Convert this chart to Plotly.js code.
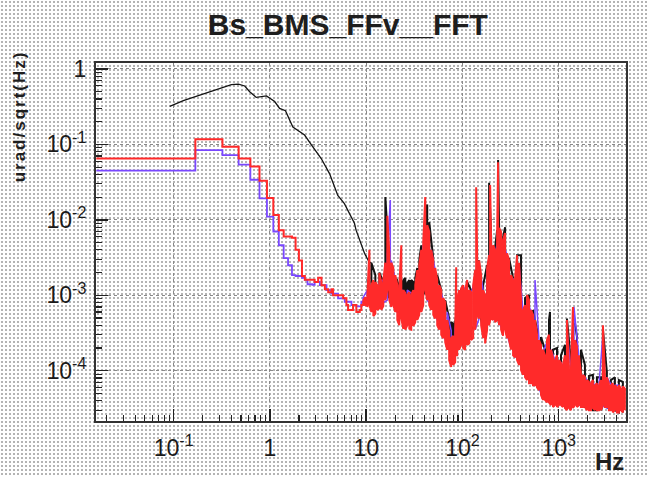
<!DOCTYPE html>
<html>
<head>
<meta charset="utf-8">
<script src="https://cdn.plot.ly/plotly-3.0.1.min.js"></script>
<style>
  html, body { margin: 0; padding: 0; background: #fff; }
  #chart {
    width: 649px; height: 477px;
    background-color: #ffffff;
    background-image: radial-gradient(circle, #b4b4b4 0.9px, rgba(255,255,255,0) 1.2px);
    background-size: 4px 4px;
  }
  .annotation[data-index="0"] text { letter-spacing: 2px; }
</style>
</head>
<body>
<div id="chart"></div>
<script>
// ---------- tick labels ----------
const xTickVals = [0.1, 1, 10, 100, 1000];
const xTickText = ['10<sup>-1</sup>', '1', '10', '10<sup>2</sup>', '10<sup>3</sup>'];
const yTickVals = [1e-4, 1e-3, 1e-2, 1e-1, 1];
const yTickText = ['10<sup>-4</sup>', '10<sup>-3</sup>', '10<sup>-2</sup>', '10<sup>-1</sup>', '1'];

// ---------- black series: smooth low-frequency part ----------
const blackLowHz = [0.091, 0.126, 0.187, 0.278, 0.398, 0.47, 0.547, 0.616, 0.72, 0.92, 1.12, 1.26, 1.45, 1.73, 2.29, 2.79, 3.41, 4.16, 5.07, 5.94, 6.7, 7.55, 7.85, 8.85, 9.6, 10.8, 11.32];
const blackLowVal = [0.32, 0.38, 0.45, 0.53, 0.62, 0.63, 0.595, 0.5, 0.42, 0.44, 0.37, 0.30, 0.28, 0.17, 0.133, 0.093, 0.065, 0.041, 0.021, 0.0164, 0.0122, 0.009, 0.0073, 0.0049, 0.0036, 0.0027, 0.0027];

// ---------- black series: noisy high-frequency part (bin, upper, lower) ----------
const blackHz = [11.32, 12.45, 13.70, 15.07, 15.81, 16.58, 17.39,
  19.13, 20.07, 21.05, 22.08, 23.16, 24.29, 25.48, 26.72, 28.03, 29.40, 30.84, 32.35, 33.93, 35.59,
  37.33, 41.07, 43.07, 45.18, 49.71, 54.69,
  60.17, 66.20, 72.83, 76.39, 80.13, 84.04, 88.16, 92.47, 101.7, 111.9, 123.1, 135.5, 149.0, 164.0, 180.4, 189.2, 198.5, 218.4, 229.1, 234.6, 240.3, 264.3,
  277.3, 305.0, 335.6, 369.2, 406.2, 446.9, 491.7, 541.0, 595.2, 654.9, 720.5, 792.7, 812, 872.2, 959.6, 1056, 1161, 1218, 1340, 1406,
  1547, 1702, 1872, 2060, 2266, 2494, 2744, 2878, 3166, 3484, 3833, 4217, 4640];
const blackHi = [2.7e-3, 1.85e-3, 2.0e-3, 1.5e-3, 2.0e-2, 7.3e-3, 2.7e-3,
  2.0e-3, 1.7e-3, 1.59e-3, 1.45e-3, 1.5e-3, 1.59e-3, 1.69e-3, 1.45e-3, 1.59e-3, 1.59e-3, 1.5e-3, 1.7e-3, 2.3e-3, 2.9e-3,
  4.6e-3, 1.16e-2, 1.6e-2, 9.3e-3, 3.1e-3, 1.85e-3,
  1.17e-3, 8.6e-4, 4.9e-4, 4.4e-4, 4.2e-4, 4.4e-4, 6.5e-4, 1.01e-3, 1.36e-3, 1.5e-3, 1.17e-3, 1.85e-3, 2.9e-3, 1.36e-3, 2.5e-3, 3.1e-2, 5.9e-3, 4.3e-3, 7.3e-3, 6.2e-2, 8.5e-3, 5.9e-3,
  8.0e-3, 3.1e-3, 1.69e-3, 3.4e-3, 3.4e-3, 9.2e-4, 1.01e-3, 6.4e-4, 3.5e-4, 2.8e-4, 1.9e-4, 4.7e-4, 6.0e-4, 1.9e-4, 2.0e-4, 1.6e-4, 2.2e-4, 4.9e-4, 1.3e-4, 6.4e-4,
  2.8e-4, 1.9e-4, 1.19e-4, 8.5e-5, 8.8e-5, 8.2e-5, 8.2e-5, 3.5e-4, 9.6e-5, 7.5e-5, 8.2e-5, 7.5e-5, 7.1e-5];
const blackLo = [1.17e-3, 9.2e-4, 8.1e-4, 8.6e-4, 1.01e-3, 1.01e-3, 9.2e-4,
  8.6e-4, 7.0e-4, 6.7e-4, 6.4e-4, 6.4e-4, 6.0e-4, 6.0e-4, 6.0e-4, 6.0e-4, 6.0e-4, 6.4e-4, 6.4e-4, 7.4e-4, 8.0e-4,
  8.6e-4, 1.17e-3, 1.17e-3, 1.01e-3, 7.4e-4, 5.5e-4,
  4.0e-4, 3.0e-4, 2.2e-4, 1.9e-4, 1.8e-4, 1.9e-4, 2.1e-4, 2.55e-4, 3.0e-4, 3.0e-4, 3.5e-4, 4.0e-4, 6.4e-4, 3.5e-4, 4.0e-4, 4.9e-4, 5.5e-4, 5.5e-4, 5.5e-4, 6.4e-4, 4.7e-4, 3.5e-4,
  4.0e-4, 3.0e-4, 1.9e-4, 1.6e-4, 1.19e-4, 9.6e-5, 8.2e-5, 7.5e-5, 7.1e-5, 5.5e-5, 4.75e-5, 4.3e-5, 4.3e-5, 3.8e-5, 3.8e-5, 3.8e-5, 3.5e-5, 3.2e-5, 3.2e-5, 3.4e-5,
  3.5e-5, 3.5e-5, 3.3e-5, 3.2e-5, 3.0e-5, 3.0e-5, 3.0e-5, 3.5e-5, 3.3e-5, 3.0e-5, 3.0e-5, 2.8e-5, 2.8e-5];

// ---------- blue series: histogram steps at low frequency ----------
const blueStepHz = [0.0157, 0.168, 0.321, 0.473, 0.626, 0.779, 0.931, 1.084, 1.237, 1.389, 1.542, 1.694, 1.847, 2.152, 2.305, 2.457, 2.762, 2.915, 3.3, 3.87, 4.36, 5.1, 5.98, 7.03, 7.9, 8.9, 9.35];
const blueStepVal = [0.045, 0.084, 0.072, 0.054, 0.034, 0.0193, 0.011, 0.007, 0.0046, 0.0031, 0.0025, 0.00185, 0.0018, 0.0017, 0.0016, 0.0014, 0.00137, 0.0015, 0.00136, 0.00117, 0.00105, 0.00091, 0.00082, 0.00074, 0.00071, 0.00082, 0.00095];

// ---------- blue series: noisy part ----------
const blueHz = [9.35, 10.29, 11.32, 12.45, 13.70, 15.07, 16.58, 17.8, 18.24, 20.07, 22.08, 24.29, 26.72, 29.40, 32.35, 35.59, 39.15, 43.07, 47.39, 52.14,
  57.36, 63.11, 69.43, 76.39, 84.04, 92.47, 101.7, 111.9, 123.1, 135.5, 149.0, 164.0, 180.4, 198.5, 218.4, 240.3, 264.3, 290.8, 320.0, 352.0,
  387.3, 426.1, 468.8, 515.8, 567.5, 624.3, 686.9, 755.8, 831.5, 914.8, 1006, 1107, 1218, 1340, 1440, 1622, 1785, 1964, 2161, 2377,
  2616, 2878, 3166, 3484, 3833, 4217, 4640];
const blueHi = [9.5e-4, 1.17e-3, 1.24e-3, 1.36e-3, 1.5e-3, 1.59e-3, 3.4e-3, 1.83e-2, 2.9e-3, 1.59e-3, 1.36e-3, 1.07e-3, 1.17e-3, 1.07e-3, 1.17e-3, 1.85e-3, 4.6e-3, 7.3e-3, 4.0e-3, 2.16e-3,
  1.36e-3, 8.6e-4, 6.0e-4, 3.4e-4, 3.6e-4, 1.17e-3, 1.17e-3, 1.36e-3, 1.07e-3, 1.59e-3, 2.5e-3, 1.17e-3, 2.16e-3, 4.6e-3, 3.4e-3, 6.9e-3, 4.9e-3, 3.4e-3, 1.69e-3, 1.59e-3,
  2.5e-3, 6.0e-4, 8.6e-4, 6.0e-4, 1.59e-3, 2.55e-4, 1.78e-4, 2.4e-4, 1.9e-4, 1.38e-4, 1.38e-4, 1.19e-4, 3.5e-4, 1.02e-4, 7.0e-4, 1.5e-4, 8.8e-5, 7.5e-5, 6.8e-5, 6.6e-5,
  6.4e-5, 3.0e-4, 8.2e-5, 6.6e-5, 6.4e-5, 6.4e-5, 6.2e-5];
const blueLo = [7.9e-4, 8.6e-4, 7.4e-4, 7.4e-4, 7.4e-4, 7.9e-4, 8.6e-4, 1.01e-3, 8.6e-4, 6.4e-4, 5.5e-4, 4.7e-4, 4.7e-4, 4.4e-4, 4.9e-4, 6.0e-4, 7.4e-4, 8.6e-4, 7.4e-4, 5.5e-4,
  4.0e-4, 3.0e-4, 2.2e-4, 1.38e-4, 1.46e-4, 2.2e-4, 2.2e-4, 2.55e-4, 2.7e-4, 3.5e-4, 4.9e-4, 3.0e-4, 3.6e-4, 4.9e-4, 4.7e-4, 4.4e-4, 3.2e-4, 3.0e-4, 2.0e-4, 1.6e-4,
  1.3e-4, 9.6e-5, 8.0e-5, 7.5e-5, 7.1e-5, 5.8e-5, 4.3e-5, 4.1e-5, 3.7e-5, 3.6e-5, 3.6e-5, 3.5e-5, 3.2e-5, 3.2e-5, 3.4e-5, 3.5e-5, 3.4e-5, 3.2e-5, 3.1e-5, 3.1e-5,
  3.1e-5, 3.4e-5, 3.2e-5, 3.1e-5, 3.1e-5, 3.0e-5, 3.0e-5];

// ---------- red series: histogram steps at low frequency ----------
const redStepHz = [0.0157, 0.168, 0.321, 0.473, 0.626, 0.779, 0.931, 1.084, 1.237, 1.389, 1.542, 1.694, 1.847, 1.999, 2.152, 2.305, 2.61, 2.915, 3.17, 3.43, 3.72, 4.03, 4.36, 4.53, 5.31, 5.76, 6.23, 6.48, 7.3, 7.9, 8.57, 8.9, 9.35];
const redStepVal = [0.065, 0.117, 0.093, 0.065, 0.051, 0.033, 0.0195, 0.0116, 0.0073, 0.006, 0.006, 0.0058, 0.004, 0.0029, 0.0018, 0.0016, 0.0016, 0.0015, 0.0017, 0.00136, 0.0012, 0.0011, 0.0012, 0.001, 0.001, 0.00091, 0.00074, 0.00064, 0.00074, 0.0006, 0.00064, 0.00074, 0.00082];

// ---------- red series: noisy part ----------
const redHz = [9.35, 9.81, 10.29, 10.79, 11.32, 11.87, 12.45, 13.06, 13.70, 14.37, 15.07, 15.81, 16.58, 17.39, 18.24, 19.13, 20.07, 21.05, 22.08, 23.16,
  24.29, 25.48, 26.72, 28.03, 29.40, 30.84, 32.35, 33.93, 35.59, 37.33, 39.15, 41.07, 43.07, 45.18, 47.39, 49.71, 52.14, 54.69, 57.36, 60.17,
  63.11, 66.20, 69.43, 72.83, 76.39, 80.13, 84.04, 86.1, 88.16, 92.47, 96.99, 101.7, 106.7, 111.9, 117.4, 123.1, 129.2, 135.5, 138.8, 142.1,
  149.0, 156.3, 164.0, 172.0, 180.4, 189.2, 193.8, 198.5, 208.2, 218.4, 229.1, 234.6, 240.3, 252.0, 264.3, 277.3, 290.8, 305.0, 320.0, 335.6,
  352.0, 369.2, 387.3, 406.2, 426.1, 446.9, 468.8, 491.7, 515.8, 541.0, 567.5, 595.2, 624.3, 654.9, 686.9, 720.5, 755.8, 792.7, 831.5, 872.2,
  914.8, 959.6, 1006, 1056, 1107, 1161, 1218, 1278, 1340, 1406, 1475, 1547, 1622, 1702, 1785, 1872, 1964, 2060, 2161, 2266,
  2377, 2494, 2616, 2744, 2878, 3019, 3166, 3321, 3484, 3654, 3833, 4020, 4217, 4423, 4640, 4867];
const redHi = [8.6e-4, 9.5e-4, 1.01e-3, 4.0e-3, 1.36e-3, 1.59e-3, 1.5e-3, 1.36e-3, 1.97e-3, 1.45e-3, 1.59e-3, 2.7e-3, 1.13e-2, 3.6e-3, 2.7e-3, 2.3e-3, 1.85e-3, 1.36e-3, 1.24e-3, 4.6e-3,
  1.17e-3, 1.07e-3, 1.01e-3, 1.1e-3, 1.01e-3, 1.17e-3, 1.36e-3, 2.16e-3, 2.5e-3, 4.0e-3, 5.1e-3, 2.0e-2, 8.5e-3, 6.9e-3, 4.0e-3, 2.9e-3, 2.3e-3, 1.59e-3, 1.36e-3, 1.17e-3,
  9.2e-4, 8.1e-4, 4.7e-4, 3.3e-4, 2.7e-4, 2.9e-4, 3.2e-4, 2.35e-3, 8.6e-4, 1.17e-3, 1.24e-3, 1.36e-3, 1.17e-3, 1.59e-3, 1.17e-3, 1.1e-3, 1.36e-3, 2.16e-3, 2.7e-2, 3.4e-3,
  2.9e-3, 1.85e-3, 1.17e-3, 1.01e-3, 2.3e-3, 3.4e-3, 2.9e-2, 5.4e-3, 4.6e-3, 4.0e-3, 6.3e-3, 5.8e-2, 7.8e-3, 6.9e-3, 5.4e-3, 6.7e-3, 3.6e-3, 2.9e-3, 1.85e-3, 1.59e-3,
  1.69e-3, 3.4e-3, 2.7e-3, 8.6e-4, 6.4e-4, 7.4e-4, 1.01e-3, 8.6e-4, 6.4e-4, 5.5e-4, 4.7e-4, 3.0e-4, 2.55e-4, 2.2e-4, 1.9e-4, 1.6e-4, 2.55e-4, 3.0e-4, 1.9e-4, 1.5e-4,
  1.38e-4, 1.6e-4, 1.38e-4, 1.26e-4, 1.19e-4, 1.6e-4, 4.7e-4, 1.12e-4, 1.02e-4, 7.0e-4, 2.55e-4, 2.1e-4, 1.6e-4, 9.3e-5, 8.8e-5, 8.2e-5, 7.5e-5, 7.1e-5, 6.8e-5, 7.5e-5,
  6.4e-5, 6.8e-5, 6.4e-5, 7.5e-5, 4.0e-4, 8.8e-5, 8.2e-5, 6.8e-5, 6.4e-5, 6.8e-5, 6.4e-5, 6.0e-5, 6.4e-5, 5.8e-5, 6.2e-5, 5.8e-5];
const redLo = [7.2e-4, 7.4e-4, 7.2e-4, 7.4e-4, 6.0e-4, 5.3e-4, 5.7e-4, 6.4e-4, 6.7e-4, 6.4e-4, 7.2e-4, 8.6e-4, 1.17e-3, 8.6e-4, 7.0e-4, 7.4e-4, 6.0e-4, 4.7e-4, 4.0e-4, 4.9e-4,
  3.6e-4, 3.5e-4, 4.0e-4, 3.6e-4, 3.5e-4, 3.9e-4, 4.4e-4, 4.7e-4, 5.5e-4, 6.0e-4, 7.4e-4, 1.17e-3, 8.6e-4, 7.4e-4, 6.4e-4, 5.5e-4, 4.9e-4, 4.0e-4, 3.5e-4, 3.0e-4,
  2.7e-4, 2.4e-4, 1.9e-4, 1.38e-4, 1.12e-4, 1.19e-4, 1.3e-4, 1.6e-4, 1.6e-4, 1.9e-4, 2.2e-4, 2.0e-4, 1.9e-4, 2.2e-4, 2.3e-4, 2.55e-4, 2.7e-4, 3.5e-4, 4.7e-4, 5.5e-4,
  4.9e-4, 4.0e-4, 2.7e-4, 2.3e-4, 3.5e-4, 4.0e-4, 4.7e-4, 4.9e-4, 4.7e-4, 4.4e-4, 4.7e-4, 5.5e-4, 4.0e-4, 3.5e-4, 2.9e-4, 3.5e-4, 2.7e-4, 2.55e-4, 1.9e-4, 1.6e-4,
  1.5e-4, 1.38e-4, 1.19e-4, 1.02e-4, 8.8e-5, 8.2e-5, 7.5e-5, 6.8e-5, 6.8e-5, 6.4e-5, 6.4e-5, 6.0e-5, 5.5e-5, 4.75e-5, 4.1e-5, 4.1e-5, 3.8e-5, 3.8e-5, 3.5e-5, 3.3e-5,
  3.5e-5, 3.3e-5, 3.5e-5, 3.5e-5, 3.3e-5, 3.2e-5, 3.0e-5, 3.2e-5, 3.0e-5, 3.2e-5, 3.5e-5, 3.3e-5, 3.5e-5, 3.3e-5, 3.3e-5, 3.3e-5, 3.0e-5, 3.0e-5, 3.0e-5, 3.2e-5,
  3.0e-5, 3.0e-5, 3.0e-5, 3.0e-5, 3.5e-5, 3.3e-5, 3.3e-5, 3.0e-5, 3.0e-5, 2.8e-5, 3.0e-5, 2.8e-5, 2.8e-5, 3.0e-5, 2.8e-5, 3.0e-5];

// ---------- colours ----------
const BLACK = '#141414', BLUE = '#7a48ff', RED = '#ff2a2a';

// Each noisy bin is drawn as a vertical stroke from its lower to its upper value.
function band(xs, hi, lo) {
  const n = Math.min(xs.length, hi.length, lo.length);
  const x = [], y = [];
  for (let i = 0; i < n; i++) {
    x.push(xs[i], xs[i]);
    if (i % 2 === 0) y.push(lo[i], hi[i]); else y.push(hi[i], lo[i]);
  }
  return { x, y };
}

const bBand = band(blackHz, blackHi, blackLo);
const uBand = band(blueHz, blueHi, blueLo);
const rBand = band(redHz, redHi, redLo);

const traces = [
  { x: blackLowHz, y: blackLowVal, mode: 'lines', line: { color: BLACK, width: 1.3 }, hoverinfo: 'skip' },
  { x: bBand.x, y: bBand.y, mode: 'lines', line: { color: BLACK, width: 2 }, hoverinfo: 'skip' },
  { x: blueStepHz, y: blueStepVal, mode: 'lines', line: { color: BLUE, width: 1.8, shape: 'hv' }, hoverinfo: 'skip' },
  { x: uBand.x, y: uBand.y, mode: 'lines', line: { color: BLUE, width: 1.5 }, hoverinfo: 'skip' },
  { x: redStepHz, y: redStepVal, mode: 'lines', line: { color: RED, width: 2, shape: 'hv' }, hoverinfo: 'skip' },
  { x: rBand.x, y: rBand.y, mode: 'lines', line: { color: RED, width: 2 }, hoverinfo: 'skip' }
];

const FONT = 'Liberation Sans, Arial, Helvetica, sans-serif';

const axisCommon = {
  type: 'log',
  tickmode: 'array',
  ticks: 'inside',
  ticklen: 12,
  tickwidth: 1.5,
  tickcolor: '#222',
  minor: { ticks: 'inside', ticklen: 6, tickwidth: 1.2, tickcolor: '#222', dtick: 'D1', showgrid: false },
  showline: true,
  linecolor: '#333',
  linewidth: 2,
  mirror: true,
  showgrid: true,
  gridcolor: '#8a8a8a',
  gridwidth: 1,
  griddash: 'dot',
  zeroline: false,
  tickfont: { family: FONT, size: 23, color: '#1a1a1a' }
};

const layout = {
  width: 649,
  height: 477,
  margin: { l: 96, r: 23, t: 63, b: 56 },
  paper_bgcolor: 'rgba(0,0,0,0)',
  plot_bgcolor: 'rgba(0,0,0,0)',
  showlegend: false,
  title: {
    text: 'Bs_BMS_FFv__FFT',
    font: { family: FONT, size: 30, weight: 700, color: '#1e1e1e' },
    x: 0.536, xanchor: 'center', xref: 'container',
    y: 0.948, yanchor: 'middle', yref: 'container'
  },
  xaxis: Object.assign({}, axisCommon, {
    range: [-1.807, 3.699],
    tickvals: xTickVals,
    ticktext: xTickText,
    ticklabelstandoff: 5
  }),
  yaxis: Object.assign({}, axisCommon, {
    range: [-4.667, 0.079],
    tickvals: yTickVals,
    ticktext: yTickText,
    ticklabelstandoff: 3
  }),
  annotations: [
    {
      text: 'urad/sqrt(Hz)', textangle: -90, showarrow: false,
      xref: 'paper', yref: 'paper', x: -0.145, y: 1.005, xanchor: 'center', yanchor: 'top',
      font: { family: FONT, size: 17, weight: 700, color: '#1e1e1e' }
    },
    {
      text: 'Hz', showarrow: false,
      xref: 'paper', yref: 'paper', x: 1.0, y: -0.112, xanchor: 'right', yanchor: 'middle',
      font: { family: FONT, size: 24, weight: 700, color: '#1e1e1e' }
    }
  ]
};

Plotly.newPlot('chart', traces, layout, { displayModeBar: false, staticPlot: true });
</script>
</body>
</html>
